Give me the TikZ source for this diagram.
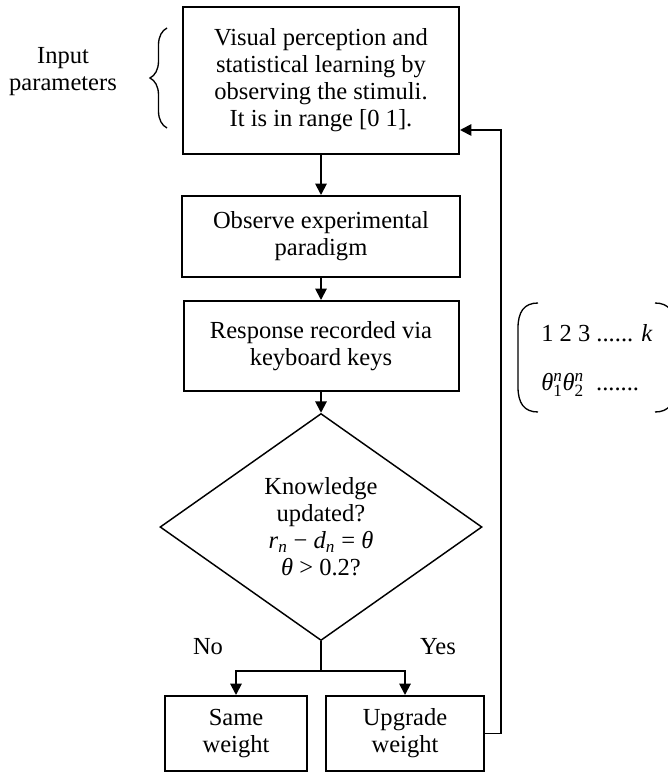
\documentclass[tikz,border=0pt]{standalone}
\usepackage{amsmath}
\usepackage{fontspec}
\setmainfont{Liberation Serif}
\usetikzlibrary{arrows.meta,shapes.geometric,decorations.pathreplacing}
\newcommand{\stackidx}[2]{${}^{\textit{#2}}_{\text{#1}}$}

\begin{document}
\begin{tikzpicture}[x=0.75pt,y=0.75pt,yscale=-1,xscale=1,
        txt/.style={font=\fontsize{18.4}{20.25}\selectfont, inner sep=0.75pt, align=center},
        procbox/.style={txt, draw, rectangle, line width=1.5pt},
        decbox/.style={txt, draw, shape=diamond, aspect=1.42, inner sep=0pt, line width=1.1pt},
        flow/.style={line width=1.4pt, -{Triangle[length=8.5pt,width=8.5pt]}},
        thin line/.style={line width=1pt}]
        \useasboundingbox (0,0) rectangle (667,773);

        %Shape: Boxes of the flow
        \node [procbox, minimum width=207pt, minimum height=110.25pt] (percep) at (321,80.5) {Visual perception and\\statistical learning by\\observing the stimuli.\\It is in range [0 1].};
        \node [procbox, minimum width=208.5pt, minimum height=60.75pt] (observe) at (321,236.5) {Observe experimental\\paradigm};
        \node [procbox, minimum width=206.25pt, minimum height=67.5pt] (response) at (321,346) {Response recorded via\\keyboard keys};
        \node [decbox, minimum width=241.5pt, minimum height=170.25pt] (update) at (321,527) {Knowledge\\updated?\\\textit{r}\textsubscript{\textit{n}} − \textit{d}\textsubscript{\textit{n}} = \textit{θ}\\\textit{θ} > 0.2?};
        \node [procbox, minimum width=106.5pt, minimum height=56.25pt] (same) at (236,733.5) {Same\\weight};
        \node [procbox, minimum width=118.5pt, minimum height=56.25pt] (upgrade) at (405,733.5) {Upgrade\\weight};

        % Text Node
        \node [txt] (no) at (208,647) {No};
        % Text Node
        \node [txt] (yes) at (438,647) {Yes};
        % Text Node
        \node [txt] (inparam) at (63,71.5) {Input\\parameters};
        % Text Node
        \node [txt, anchor=west] (index) at (540,333) {1 2 3 ...... \textit{k}};
        % Text Node
        \node [txt, anchor=west] (theta) at (540,385) {\textit{θ}\stackidx{1}{n}\textit{θ}\stackidx{2}{n}\ \ .......};

        \coordinate (split) at (321,671);
        \coordinate (back) at (501,130);

        %Straight Lines
        \draw [flow] (percep) -- (observe);
        \draw [flow] (observe) -- (response);
        \draw [flow] (response) -- (update);
        \draw [line width=1.4pt] (update.south) -- (split);
        \draw [flow] (split) -| (same.north);
        \draw [flow] (split) -| (upgrade.north);
        \draw [flow] (upgrade.east) -| (back) -- (percep.east |- back);

        %Shape: Brace
        \draw [thin line, decorate, decoration={brace, amplitude=12.75pt}] (167,128) -- (167,28);
        %Shape: Brackets
        \draw [thin line] (538,303) .. controls (524,303) and (518,312) .. (518,328) -- (518,387) .. controls (518,403) and (524,412) .. (538,412);
        \draw [thin line] (655,303) .. controls (669,303) and (675,312) .. (675,328) -- (675,387) .. controls (675,403) and (669,412) .. (655,412);

\end{tikzpicture}
\end{document}
